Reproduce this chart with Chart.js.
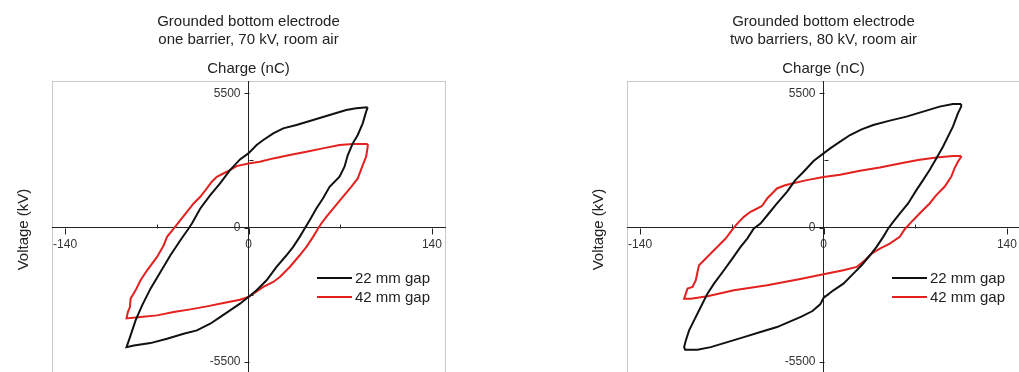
<!DOCTYPE html>
<html>
<head>
<meta charset="utf-8">
<script src="https://cdn.jsdelivr.net/npm/chart.js"></script>
<style>
  html, body { margin: 0; padding: 0; background: #fff; overflow: hidden; }
  body { width: 1019px; height: 372px; position: relative; }
  .panel { position: absolute; top: 0; }
  #left { left: 0; }
  #right { left: 575px; }
</style>
</head>
<body>
<div class="panel" id="left"><canvas id="chartA" width="500" height="380"></canvas></div>
<div class="panel" id="right"><canvas id="chartB" width="500" height="380"></canvas></div>
<script>
// tick values and labels (shared by both panels)
const xTicks = [-140, -70, 0, 70, 140]
const xTickLabels = ['-140', '', '0', '', '140']
const yTicks = [-5500, -2750, 0, 2750, 5500]
const yTickLabels = ['-5500', '', '0', '', '5500']
const minorX = [-70, 70]
const minorY = [-2750, 2750]

const seriesLabels = ['22 mm gap', '42 mm gap']
const seriesColors = ['#111111', '#e3211e']

// panel A: one barrier, 70 kV
const oneBarrier22X = [91.0, 82.2, 74.6, 61.9, 49.3, 36.6, 26.5, 18.9, 11.3, 6.2, -0.1, -6.5, -14.1, -21.7, -29.2, -36.8, -43.2, -45.7, -52.0, -59.6, -67.2, -74.8, -81.2, -86.2, -90.0, -93.1, -87.5, -74.8, -62.2, -49.5, -39.4, -29.2, -21.7, -14.1, -6.5, -0.1, 6.2, 13.8, 21.4, 29.0, 34.1, 39.1, 42.9, 46.7, 51.8, 56.8, 61.9, 69.5, 73.3, 75.8, 79.6, 83.4, 87.2, 89.8, 91.0]
const oneBarrier22Y = [4923, 4882, 4814, 4609, 4404, 4198, 4062, 3856, 3583, 3378, 3036, 2789, 2352, 1804, 1326, 778, 163, -42, -521, -1137, -1821, -2505, -3189, -3804, -4420, -4899, -4830, -4735, -4557, -4352, -4215, -3941, -3668, -3394, -3120, -2847, -2573, -2163, -1616, -1137, -795, -384, -42, 300, 778, 1189, 1668, 2078, 2488, 2967, 3446, 3788, 4267, 4746, 4923]
const oneBarrier42X = [91.0, 79.6, 69.5, 56.8, 44.2, 31.5, 18.9, 8.7, -0.1, -9.0, -16.6, -24.2, -28.0, -31.8, -36.8, -41.9, -47.0, -52.0, -57.1, -62.2, -64.7, -69.8, -77.4, -82.4, -86.2, -90.0, -90.5, -92.1, -93.1, -82.4, -69.8, -57.1, -44.4, -31.8, -19.1, -6.5, -0.1, 3.7, 11.3, 18.9, 23.9, 31.5, 39.1, 44.2, 49.3, 53.1, 55.6, 59.4, 65.7, 72.0, 78.4, 83.4, 87.2, 89.8, 91.0, 91.0]
const oneBarrier42Y = [3419, 3419, 3378, 3241, 3104, 2967, 2830, 2694, 2625, 2516, 2283, 2078, 1873, 1599, 1257, 984, 642, 300, -42, -384, -726, -1205, -1752, -2163, -2573, -2915, -3257, -3462, -3722, -3668, -3599, -3462, -3353, -3230, -3093, -2956, -2847, -2710, -2436, -2231, -2026, -1616, -1137, -795, -384, -42, 163, 436, 847, 1257, 1668, 2010, 2557, 2899, 3309, 3419]

// panel B: two barriers, 80 kV
const twoBarrier22X = [105.1, 98.8, 88.6, 76.0, 63.3, 50.6, 38.0, 29.1, 20.3, 12.7, 5.1, 0, -7.6, -15.2, -21.5, -27.9, -35.5, -41.8, -48.1, -53.2, -58.2, -63.3, -69.6, -76.0, -83.6, -88.6, -93.7, -98.8, -102.6, -105.1, -106.4, -105.6, -96.2, -86.1, -73.4, -60.8, -48.1, -35.5, -25.3, -16.5, -8.4, -2.5, 0, 7.6, 15.2, 22.8, 29.1, 35.5, 40.5, 45.6, 49.4, 53.2, 58.2, 64.6, 70.9, 76.0, 81.0, 86.1, 91.2, 95.0, 98.8, 102.6, 105.1, 105.1]
const twoBarrier22Y = [5060, 5060, 4951, 4746, 4540, 4376, 4198, 4021, 3788, 3514, 3241, 3036, 2721, 2284, 1942, 1462, 984, 573, 163, -42, -453, -795, -1274, -1752, -2300, -2710, -3257, -3804, -4215, -4625, -4899, -5008, -5008, -4899, -4694, -4488, -4283, -4078, -3845, -3640, -3421, -3148, -2888, -2573, -2300, -1889, -1547, -1137, -795, -384, -42, 231, 573, 984, 1531, 1941, 2352, 2830, 3309, 3720, 4130, 4677, 4951, 5060]
const twoBarrier42X = [105.1, 98.8, 86.1, 72.2, 58.2, 43.0, 27.9, 12.7, 0, -12.7, -24.1, -29.9, -35.5, -39.3, -43.0, -46.8, -50.6, -55.7, -60.8, -64.6, -68.4, -70.9, -74.7, -79.8, -86.1, -91.2, -95.0, -96.2, -97.5, -100.0, -103.8, -105.1, -106.4, -101.3, -88.6, -68.4, -43.0, -17.7, 0, 15.2, 25.3, 31.6, 36.7, 43.0, 50.6, 58.2, 62.0, 68.4, 74.7, 81.0, 86.1, 92.4, 97.5, 100.0, 102.6, 105.1, 105.1]
const twoBarrier42Y = [2926, 2926, 2871, 2762, 2625, 2461, 2324, 2160, 2064, 1941, 1804, 1722, 1599, 1394, 1189, 888, 778, 642, 436, 231, -1, -179, -453, -726, -1068, -1342, -1547, -1821, -2163, -2436, -2505, -2710, -2915, -2915, -2819, -2573, -2368, -2108, -1917, -1752, -1616, -1342, -1068, -863, -658, -384, -70, 300, 642, 984, 1326, 1668, 2078, 2420, 2694, 2899, 2926]

const FONT = '"Liberation Sans", Arial, sans-serif'
Chart.defaults.font.family = FONT
Chart.defaults.color = '#333'

var toPoints = (xs, ys) => xs.map((x, i) => ({ x, y: ys[i] }))

// frame, tick marks, y tick labels, side label and legend
const panelDecor = {
  id: 'panelDecor',
  beforeDraw: (chart) => {
    const { ctx, chartArea: a } = chart
    ctx.save()
    ctx.strokeStyle = '#c9c9c9'
    ctx.lineWidth = 1
    ctx.strokeRect(a.left + 0.5, a.top + 0.5, a.right - a.left, a.bottom - a.top)
    ctx.restore()
  },
  afterDraw: (chart) => {
    const { ctx, chartArea: a, scales: { x, y } } = chart
    const x0 = Math.round(x.getPixelForValue(0)) + 0.5
    const y0 = Math.round(y.getPixelForValue(0)) + 0.5
    ctx.save()
    ctx.strokeStyle = '#222'
    ctx.lineWidth = 1
    xTicks.forEach(v => {
      const px = Math.round(x.getPixelForValue(v)) + 0.5
      const minor = minorX.includes(v)
      ctx.beginPath(); ctx.moveTo(px, y0); ctx.lineTo(px, minor ? y0 - 4 : y0 + 6); ctx.stroke()
    })
    yTicks.forEach(v => {
      const py = Math.round(y.getPixelForValue(v)) + 0.5
      const minor = minorY.includes(v)
      ctx.beginPath(); ctx.moveTo(x0, py); ctx.lineTo(minor ? x0 + 4 : x0 - 5, py); ctx.stroke()
    })

    // y tick labels, to the left of the centred axis
    ctx.fillStyle = '#333'
    ctx.font = '12px ' + FONT
    ctx.textAlign = 'right'
    ctx.textBaseline = 'middle'
    yTicks.forEach((v, i) => {
      if (yTickLabels[i]) ctx.fillText(yTickLabels[i], x0 - 9, y.getPixelForValue(v))
    })

    // side label
    ctx.fillStyle = '#222'
    ctx.font = '15px ' + FONT
    ctx.textAlign = 'center'
    ctx.translate(a.left - 28, (a.top + a.bottom) / 2 + 2)
    ctx.rotate(-Math.PI / 2)
    ctx.fillText('Voltage (kV)', 0, 0)
    ctx.restore()

    // legend
    ctx.save()
    ctx.font = '15px ' + FONT
    ctx.textAlign = 'left'
    ctx.textBaseline = 'middle'
    chart.data.datasets.forEach((ds, i) => {
      const ly = a.top + 197 + i * 19
      ctx.strokeStyle = ds.borderColor
      ctx.lineWidth = 2
      ctx.beginPath(); ctx.moveTo(a.left + 265, ly); ctx.lineTo(a.left + 300, ly); ctx.stroke()
      ctx.fillStyle = '#222'
      ctx.fillText(ds.label, a.left + 303, ly + 1)
    })
    ctx.restore()
  }
}

var makeChart = (canvasId, titleLines, series) => {
  const config = {
    type: 'scatter',
    data: {
      datasets: series.map((s, i) => ({
        label: seriesLabels[i],
        data: toPoints(s[0], s[1]),
        showLine: true,
        borderColor: seriesColors[i],
        backgroundColor: seriesColors[i],
        borderWidth: 2,
        pointRadius: 0,
        tension: 0
      }))
    },
    options: {
      responsive: false,
      animation: false,
      layout: { padding: { left: 52, right: 55, top: 0, bottom: 6 } },
      plugins: {
        legend: { display: false },
        tooltip: { enabled: false },
        title: {
          display: true,
          text: titleLines,
          fullSize: false,
          color: '#222',
          font: { size: 15, weight: 'normal', lineHeight: 1.2 },
          padding: { top: 13, bottom: 10 }
        },
        subtitle: {
          display: true,
          text: 'Charge (nC)',
          fullSize: false,
          color: '#222',
          font: { size: 15, lineHeight: 1.2 },
          padding: { top: 1, bottom: 3 }
        }
      },
      scales: {
        x: {
          type: 'linear',
          min: -150,
          max: 150,
          position: { y: 0 },
          afterBuildTicks: axis => { axis.ticks = xTicks.map(v => ({ value: v })) },
          ticks: {
            font: { size: 12 },
            color: '#333',
            padding: 10,
            maxRotation: 0,
            autoSkip: false,
            callback: (v) => xTickLabels[xTicks.indexOf(v)]
          },
          grid: { drawOnChartArea: false, drawTicks: false },
          border: { display: true, color: '#222', width: 1 }
        },
        y: {
          type: 'linear',
          min: -6000,
          max: 6000,
          position: { x: 0 },
          afterBuildTicks: axis => { axis.ticks = yTicks.map(v => ({ value: v })) },
          ticks: { display: false },
          grid: { drawOnChartArea: false, drawTicks: false },
          border: { display: true, color: '#222', width: 1 }
        }
      }
    },
    plugins: [panelDecor]
  }
  return new Chart(document.getElementById(canvasId).getContext('2d'), config)
}

makeChart('chartA', ['Grounded bottom electrode', 'one barrier, 70 kV, room air'],
  [[oneBarrier22X, oneBarrier22Y], [oneBarrier42X, oneBarrier42Y]])
makeChart('chartB', ['Grounded bottom electrode', 'two barriers, 80 kV, room air'],
  [[twoBarrier22X, twoBarrier22Y], [twoBarrier42X, twoBarrier42Y]])
</script>
</body>
</html>
